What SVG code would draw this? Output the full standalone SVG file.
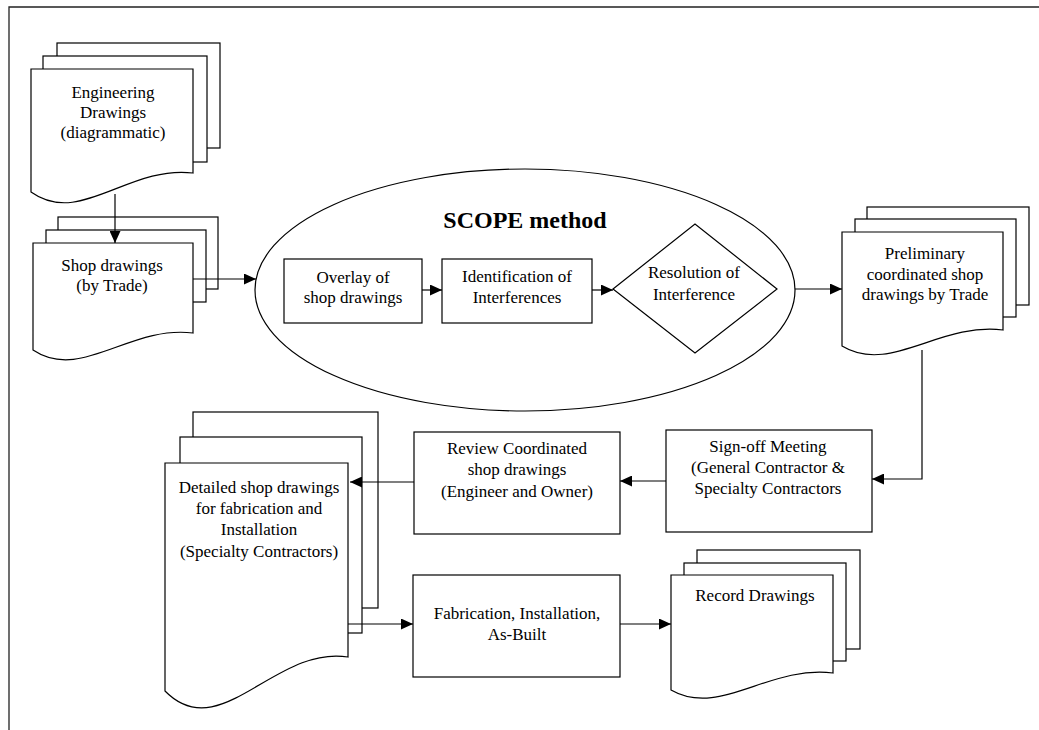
<svg xmlns="http://www.w3.org/2000/svg" width="1039" height="730" viewBox="0 0 1039 730">
<style>
.s{fill:#fff;stroke:#000;stroke-width:1.2}
.t{font-family:"Liberation Serif","Times New Roman",serif;font-size:17px;fill:#000;text-anchor:middle}
.b{font-family:"Liberation Serif","Times New Roman",serif;font-size:24px;font-weight:bold;fill:#000;text-anchor:middle}
.c{fill:none;stroke:#000;stroke-width:1.2}
</style>
<defs>
<marker id="ah" markerUnits="userSpaceOnUse" markerWidth="12" markerHeight="11" refX="12" refY="5.5" orient="auto">
<path d="M0,0 L12,5.5 L0,11 Z" fill="#000"/>
</marker>
</defs>
<rect width="1039" height="730" fill="#fff"/>
<path d="M9,730 V7 H1039" fill="none" stroke="#222" stroke-width="1.3"/>

<g id="engineering-drawings">
<rect class="s" x="57" y="43" width="163" height="105"/>
<rect class="s" x="43" y="56" width="164" height="106"/>
<path class="s" d="M31,69 H193 V173 C128,165 80,227 31,192 Z"/>
<text class="t" x="113" y="98">Engineering</text>
<text class="t" x="113" y="118">Drawings</text>
<text class="t" x="113" y="138">(diagrammatic)</text>
</g>

<g id="shop-drawings">
<rect class="s" x="58" y="217" width="160" height="72"/>
<rect class="s" x="46" y="230" width="160" height="72"/>
<path class="s" d="M33,243 H193 V333 C129,325 81,382 33,350 Z"/>
<text class="t" x="112" y="271">Shop drawings</text>
<text class="t" x="112" y="291">(by Trade)</text>
</g>

<g id="scope-method">
<ellipse class="s" cx="525" cy="290" rx="270" ry="121"/>
<text class="b" x="525" y="228">SCOPE method</text>
</g>

<g id="overlay">
<rect class="s" x="284" y="259" width="138" height="64"/>
<text class="t" x="353" y="283">Overlay of</text>
<text class="t" x="353" y="303">shop drawings</text>
</g>

<g id="identification">
<rect class="s" x="442" y="259" width="150" height="64"/>
<text class="t" x="517" y="282">Identification of</text>
<text class="t" x="517" y="303">Interferences</text>
</g>

<g id="resolution">
<polygon class="s" points="613,289 695,224 777,289 695,353"/>
<text class="t" x="694" y="278">Resolution of</text>
<text class="t" x="694" y="300">Interference</text>
</g>

<g id="preliminary">
<rect class="s" x="867" y="207" width="162" height="98"/>
<rect class="s" x="855" y="219" width="161" height="98"/>
<path class="s" d="M842,232 H1003 V330 C939,322 890,375 842,346 Z"/>
<text class="t" x="925" y="259">Preliminary</text>
<text class="t" x="925" y="280">coordinated shop</text>
<text class="t" x="925" y="300">drawings by Trade</text>
</g>

<g id="sign-off">
<rect class="s" x="666" y="430" width="206" height="102"/>
<text class="t" x="768" y="452">Sign-off Meeting</text>
<text class="t" x="768" y="473">(General Contractor &amp;</text>
<text class="t" x="768" y="494">Specialty Contractors</text>
</g>

<g id="review">
<rect class="s" x="414" y="432" width="206" height="102"/>
<text class="t" x="517" y="454">Review Coordinated</text>
<text class="t" x="517" y="475">shop drawings</text>
<text class="t" x="517" y="497">(Engineer and Owner)</text>
</g>

<g id="detailed">
<rect class="s" x="193" y="412" width="185" height="196"/>
<rect class="s" x="180" y="437" width="182" height="196"/>
<path class="s" d="M165,463 H348 V657 C275,645 220,747 165,691 Z"/>
<text class="t" x="259" y="493">Detailed shop drawings</text>
<text class="t" x="259" y="514">for fabrication and</text>
<text class="t" x="259" y="535">Installation</text>
<text class="t" x="259" y="557">(Specialty Contractors)</text>
</g>

<g id="fabrication">
<rect class="s" x="413" y="575" width="207" height="102"/>
<text class="t" x="517" y="619">Fabrication, Installation,</text>
<text class="t" x="517" y="640">As-Built</text>
</g>

<g id="record">
<rect class="s" x="697" y="550" width="163" height="99"/>
<rect class="s" x="684" y="563" width="162" height="98"/>
<path class="s" d="M671,575 H833 V673 C768,665 720,718 671,690 Z"/>
<text class="t" x="755" y="601">Record Drawings</text>
</g>

<g id="connectors">
<path class="c" d="M115,194 V243" marker-end="url(#ah)"/>
<path class="c" d="M193,279 H256" marker-end="url(#ah)"/>
<path class="c" d="M422,290 H442" marker-end="url(#ah)"/>
<path class="c" d="M592,290 H613" marker-end="url(#ah)"/>
<path class="c" d="M795,289 H842" marker-end="url(#ah)"/>
<path class="c" d="M922,350 V479 H872" marker-end="url(#ah)"/>
<path class="c" d="M666,481 H620" marker-end="url(#ah)"/>
<path class="c" d="M414,482 H350" marker-end="url(#ah)"/>
<path class="c" d="M348,624 H413" marker-end="url(#ah)"/>
<path class="c" d="M620,624 H671" marker-end="url(#ah)"/>
</g>
</svg>
